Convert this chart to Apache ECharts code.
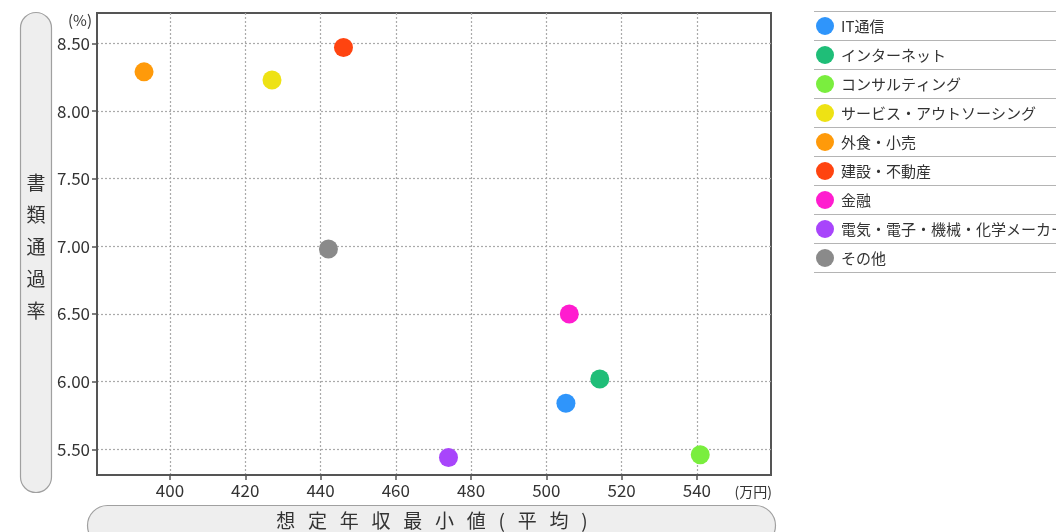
<!DOCTYPE html>
<html>
<head>
<meta charset="utf-8">
<script src="https://cdn.jsdelivr.net/npm/echarts@6/dist/echarts.min.js"></script>
<style>
  html, body { margin: 0; padding: 0; background: #fff; }
  #chart { width: 1056px; height: 532px; }
</style>
</head>
<body>
<div id="chart"></div>
<script>
// Industries, their average minimum expected salary (万円) and document pass rate (%)
const industries = ['IT通信', 'インターネット', 'コンサルティング', 'サービス・アウトソーシング',
  '外食・小売', '建設・不動産', '金融', '電気・電子・機械・化学メーカー', 'その他'];
const salary = [505.2, 514.2, 540.9, 427.1, 393.1, 446.1, 506.1, 474.0, 442.1];
const passRate = [5.84, 6.02, 5.46, 8.23, 8.29, 8.47, 6.50, 5.44, 6.98];
const colors = ['#2f95fb', '#1fbe78', '#7aee3e', '#eee214', '#ff9a0a', '#ff4410', '#ff1ccf', '#a845fb', '#8a8a8a'];

const xTicks = [400, 420, 440, 460, 480, 500, 520, 540];
const yTicks = [5.5, 6.0, 6.5, 7.0, 7.5, 8.0, 8.5];

const FONT = '"Noto Sans CJK JP", "Noto Sans", sans-serif';
const TEXT = '#333';

// legend rows
const legendTop = 17, rowH = 29;

const chart = echarts.init(document.getElementById('chart'), null, { renderer: 'canvas' });

const series = industries.map((name, i) => ({
  name,
  type: 'scatter',
  symbol: 'circle',
  symbolSize: 19,
  itemStyle: { color: colors[i], opacity: 1 },
  data: [[salary[i], passRate[i]]],
  z: 3
}));

// separator lines around legend rows
const legendLines = [];
for (let k = 0; k <= industries.length; k++) {
  const y = legendTop - 5.5 + k * rowH;
  legendLines.push({
    type: 'line',
    shape: { x1: 814, y1: y, x2: 1056, y2: y },
    style: { stroke: '#b4b4b4', lineWidth: 1.2 },
    silent: true
  });
}

const option = {
  animation: false,
  textStyle: { fontFamily: FONT },
  color: colors,
  grid: {
    left: 97, top: 13, right: 285, bottom: 57,
    show: true, borderColor: '#555', borderWidth: 2, backgroundColor: '#fff'
  },
  xAxis: {
    type: 'value',
    min: 380.6, max: 559.7,
    axisLine: { show: true, lineStyle: { color: '#555', width: 2 } },
    axisTick: { show: true, length: 5, lineStyle: { color: '#555', width: 1.5 }, customValues: xTicks },
    axisLabel: { customValues: xTicks, color: TEXT, fontSize: 17, margin: 7, fontFamily: FONT },
    splitLine: { show: true, lineStyle: { color: '#aaa', type: [2, 2], width: 1.2 } }
  },
  yAxis: {
    type: 'value',
    min: 5.31, max: 8.725,
    axisLine: { show: true, lineStyle: { color: '#555', width: 2 } },
    axisTick: { show: true, length: 5, lineStyle: { color: '#555', width: 1.5 }, customValues: yTicks },
    axisLabel: {
      customValues: yTicks, color: TEXT, fontSize: 17, margin: 7, fontFamily: FONT,
      formatter: v => v.toFixed(2)
    },
    splitLine: { show: true, lineStyle: { color: '#aaa', type: [2, 2], width: 1.2 } }
  },
  legend: {
    orient: 'vertical',
    left: 816, top: legendTop,
    padding: 0,
    itemWidth: 18, itemHeight: 18,
    itemGap: rowH - 18,
    icon: 'circle',
    textStyle: { color: TEXT, fontSize: 15, fontFamily: FONT, padding: [0, 0, 0, 2] },
    data: industries
  },
  graphic: [
    // vertical title box
    {
      type: 'rect', shape: { x: 20.5, y: 12.5, width: 31, height: 480, r: 15.5 },
      style: { fill: '#eeeeee', stroke: '#a0a0a0', lineWidth: 1.2 }, z: 0, silent: true
    },
    {
      type: 'text', x: 36, y: 247,
      style: {
        text: '書\n類\n通\n過\n率', fill: TEXT, font: '19px ' + FONT,
        align: 'center', verticalAlign: 'middle', lineHeight: 32
      }, z: 1, silent: true
    },
    // horizontal title box
    {
      type: 'rect', shape: { x: 87.5, y: 505.5, width: 688, height: 40, r: 20 },
      style: { fill: '#eeeeee', stroke: '#a0a0a0', lineWidth: 1.2 }, z: 0, silent: true
    },
    {
      type: 'text', x: 432, y: 521,
      style: {
        text: '想   定   年   収   最   小   値   (   平   均   )', fill: TEXT, font: '19px ' + FONT,
        align: 'center', verticalAlign: 'middle'
      }, z: 1, silent: true
    },
    // units
    {
      type: 'text', x: 80, y: 20,
      style: { text: '(%)', fill: TEXT, font: '15px ' + FONT, align: 'center', verticalAlign: 'middle' },
      silent: true
    },
    {
      type: 'text', x: 772, y: 492,
      style: { text: '(万円)', fill: TEXT, font: '14px ' + FONT, align: 'right', verticalAlign: 'middle' },
      silent: true
    }
  ].concat(legendLines),
  series
};

chart.setOption(option);
</script>
</body>
</html>
